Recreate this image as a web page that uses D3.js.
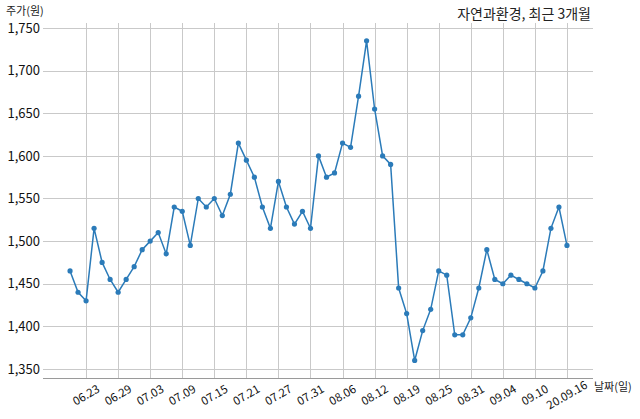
<!DOCTYPE html>
<html><head><meta charset="utf-8">
<script src="https://cdn.jsdelivr.net/npm/d3@7"></script>
<style>body{margin:0;background:#fff}svg{display:block}text{font-family:"Noto Sans CJK KR","Noto Sans",sans-serif}</style>
</head><body>
<svg id="c" width="640" height="419"></svg>
<script>
const dates = ["06.19","06.22","06.23","06.24","06.25","06.26","06.29","06.30","07.01","07.02","07.03","07.06","07.07","07.08","07.09","07.10","07.13","07.14","07.15","07.16","07.17","07.20","07.21","07.22","07.23","07.24","07.27","07.28","07.29","07.30","07.31","08.03","08.04","08.05","08.06","08.07","08.10","08.11","08.12","08.13","08.14","08.18","08.19","08.20","08.21","08.24","08.25","08.26","08.27","08.28","08.31","09.01","09.02","09.03","09.04","09.07","09.08","09.09","09.10","09.11","09.14","09.15","09.16"];
const prices = [1465,1440,1430,1515,1475,1455,1440,1455,1470,1490,1500,1510,1485,1540,1535,1495,1550,1540,1550,1530,1555,1615,1595,1575,1540,1515,1570,1540,1520,1535,1515,1600,1575,1580,1615,1610,1670,1735,1655,1600,1590,1445,1415,1360,1395,1420,1465,1460,1390,1390,1410,1445,1490,1455,1450,1460,1455,1450,1445,1465,1515,1540,1495];
const xTickIdx = [2,6,10,14,18,22,26,30,34,38,42,46,50,54,58,62];
const xTickLabels = ["06.23","06.29","07.03","07.09","07.15","07.21","07.27","07.31","08.06","08.12","08.19","08.25","08.31","09.04","09.10","20.09.16"];
const yTicks = [1350,1400,1450,1500,1550,1600,1650,1700,1750];
const title = "자연과환경, 최근 3개월";
const yLabel = "주가(원)";
const xLabel = "날짜(일)";

const svg = d3.select("#c");
const L = 43, R = 593, T = 23, B = 378;
const x = d3.scaleLinear().domain([-3.375, 65.25]).range([L, R]);
const y = d3.scaleLinear().domain([1339.4, 1755.9]).range([B, T]);
const fmt = d3.format(",");

// horizontal grid
svg.append("g").selectAll("line").data(yTicks).join("line")
  .attr("x1", L).attr("x2", R).attr("y1", d => Math.round(y(d))+0.5).attr("y2", d => Math.round(y(d))+0.5)
  .attr("stroke", "#c9c9c9").attr("stroke-width", 1);
// vertical grid
svg.append("g").selectAll("line").data(xTickIdx).join("line")
  .attr("x1", d => Math.round(x(d))+0.5).attr("x2", d => Math.round(x(d))+0.5).attr("y1", T).attr("y2", B)
  .attr("stroke", "#c9c9c9").attr("stroke-width", 1);
// bottom spine
svg.append("line").attr("x1", L).attr("x2", R).attr("y1", B+0.5).attr("y2", B+0.5)
  .attr("stroke", "#9a9a9a").attr("stroke-width", 1);

// y tick labels
svg.append("g").selectAll("text").data(yTicks).join("text")
  .attr("x", 40).attr("y", d => y(d)).attr("dy", "0.36em")
  .attr("text-anchor", "end").attr("font-size", 13).attr("fill", "#111")
  .text(d => fmt(d));

// x tick labels
svg.append("g").selectAll("text").data(xTickIdx).join("text")
  .attr("transform", (d,i) => `translate(${x(d)},${395}) rotate(-30)`)
  .attr("text-anchor", "middle").attr("dy", "0.35em")
  .attr("font-size", 11.5).attr("fill", "#111")
  .text((d,i) => xTickLabels[i]);

// line
const line = d3.line().x((d,i) => x(i)).y(d => y(d));
svg.append("path").datum(prices).attr("d", line)
  .attr("fill", "none").attr("stroke", "#2b7bb9").attr("stroke-width", 1.5);
svg.append("g").selectAll("circle").data(prices).join("circle")
  .attr("cx", (d,i) => x(i)).attr("cy", d => y(d)).attr("r", 2.6)
  .attr("fill", "#2b7bb9");

// texts
svg.append("text").attr("x", 591).attr("y", 19).attr("text-anchor", "end")
  .attr("font-size", 14).attr("fill", "#222").text(title);
svg.append("text").attr("x", 6).attr("y", 15)
  .attr("font-size", 11).attr("fill", "#222").text(yLabel);
svg.append("text").attr("x", 594).attr("y", 391)
  .attr("font-size", 11).attr("fill", "#222").text(xLabel);
</script>
</body></html>
